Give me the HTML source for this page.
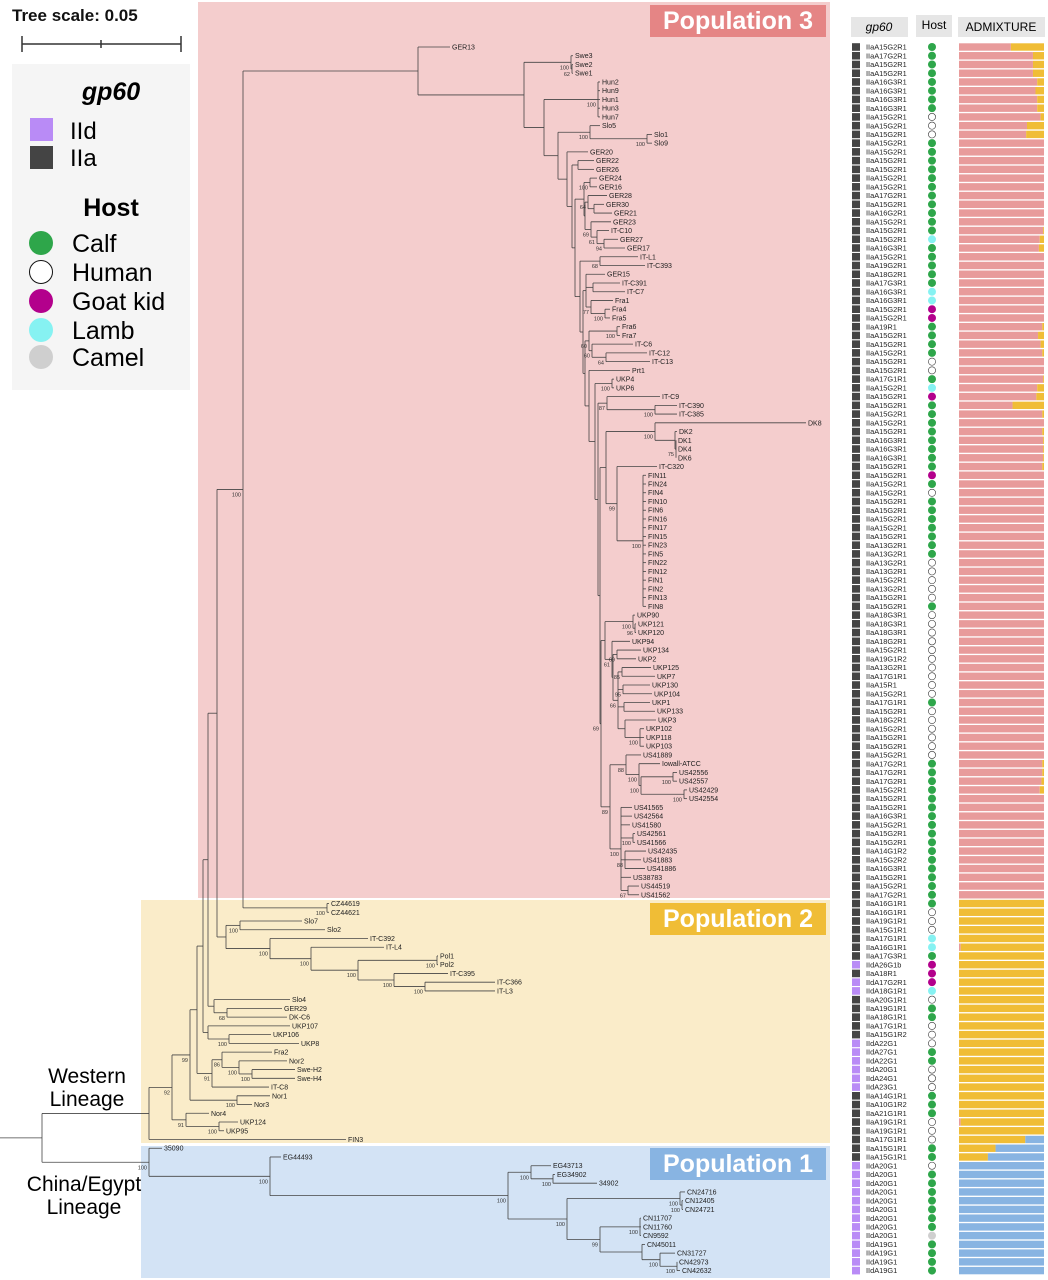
<!DOCTYPE html>
<html><head><meta charset="utf-8"><style>
html,body{margin:0;padding:0;background:#fff;}
svg{display:block;font-family:"Liberation Sans",sans-serif;}
</style></head><body>
<svg id="fig" width="1048" height="1280" viewBox="0 0 1048 1280" xmlns="http://www.w3.org/2000/svg">
<rect x="198" y="2" width="632" height="896" fill="#f4cdcd"/>
<rect x="141" y="900" width="689" height="243" fill="#faecc9"/>
<rect x="141" y="1146" width="689" height="132" fill="#d3e3f5"/>
<g><rect x="650" y="5" width="176" height="32" fill="#e58585"/><text x="738" y="29" text-anchor="middle" fill="#fff" font-size="25" font-weight="bold">Population 3</text></g>
<g><rect x="650" y="903" width="176" height="32" fill="#f0bd36"/><text x="738" y="927" text-anchor="middle" fill="#fff" font-size="25" font-weight="bold">Population 2</text></g>
<g><rect x="650" y="1148" width="176" height="32" fill="#88b4e2"/><text x="738" y="1172" text-anchor="middle" fill="#fff" font-size="25" font-weight="bold">Population 1</text></g>

<g>
<text x="12" y="21" font-size="17" font-weight="bold" fill="#111">Tree scale: 0.05</text>
<path d="M22 44H181M22 36V52M181 36V52M101 40V48" stroke="#333" stroke-width="1.5" fill="none"/>
</g>
<g>
<rect x="12" y="64" width="178" height="326" fill="#f5f5f5"/>
<text x="111" y="100" text-anchor="middle" font-size="25" font-weight="bold" font-style="italic">gp60</text>
<rect x="30" y="118" width="23" height="23" fill="#b98bf6"/>
<text x="70" y="139" font-size="24">IId</text>
<rect x="30" y="146" width="23" height="23" fill="#444"/>
<text x="70" y="166" font-size="24">IIa</text>
<text x="111" y="216" text-anchor="middle" font-size="25" font-weight="bold">Host</text>
<circle cx="41" cy="243" r="12" fill="#2ea64a"/><text x="72" y="252" font-size="25">Calf</text>
<circle cx="41" cy="272" r="11.5" fill="#fff" stroke="#111" stroke-width="1"/><text x="72" y="281" font-size="25">Human</text>
<circle cx="41" cy="301" r="12" fill="#b3008c"/><text x="72" y="310" font-size="25">Goat kid</text>
<circle cx="41" cy="330" r="12" fill="#86f2f2"/><text x="72" y="339" font-size="25">Lamb</text>
<circle cx="41" cy="357" r="12" fill="#cfcfcf"/><text x="72" y="366" font-size="25">Camel</text>
</g>
<g><text x="87" y="1083" text-anchor="middle" font-size="21">Western</text><text x="87" y="1106" text-anchor="middle" font-size="21">Lineage</text></g>
<g><text x="84" y="1191" text-anchor="middle" font-size="21">China/Egypt</text><text x="84" y="1214" text-anchor="middle" font-size="21">Lineage</text></g>

<g><rect x="851" y="17" width="57" height="20" fill="#e6e6e6"/><text x="879" y="31" text-anchor="middle" font-size="12" font-style="italic">gp60</text></g>
<g><rect x="916" y="15" width="36" height="22" fill="#e6e6e6"/><text x="934" y="29" text-anchor="middle" font-size="12">Host</text></g>
<g><rect x="958" y="17" width="87" height="20" fill="#e6e6e6"/><text x="1001" y="31" text-anchor="middle" font-size="12">ADMIXTURE</text></g>
<g id="tree"></g>
<g id="panel"></g>
</svg>
<script>
var gp60Labels=[
"IIaA15G2R1","IIaA17G2R1","IIaA15G2R1","IIaA15G2R1","IIaA16G3R1","IIaA16G3R1","IIaA16G3R1","IIaA16G3R1","IIaA15G2R1","IIaA15G2R1",
"IIaA15G2R1","IIaA15G2R1","IIaA15G2R1","IIaA15G2R1","IIaA15G2R1","IIaA15G2R1","IIaA15G2R1","IIaA17G2R1","IIaA15G2R1","IIaA16G2R1",
"IIaA15G2R1","IIaA15G2R1","IIaA15G2R1","IIaA16G3R1","IIaA15G2R1","IIaA19G2R1","IIaA18G2R1","IIaA17G3R1","IIaA16G3R1","IIaA16G3R1",
"IIaA15G2R1","IIaA15G2R1","IIaA19R1","IIaA15G2R1","IIaA15G2R1","IIaA15G2R1","IIaA15G2R1","IIaA15G2R1","IIaA17G1R1","IIaA15G2R1",
"IIaA15G2R1","IIaA15G2R1","IIaA15G2R1","IIaA15G2R1",
"IIaA15G2R1","IIaA16G3R1","IIaA16G3R1","IIaA16G3R1","IIaA15G2R1","IIaA15G2R1","IIaA15G2R1","IIaA15G2R1","IIaA15G2R1","IIaA15G2R1",
"IIaA15G2R1","IIaA15G2R1","IIaA15G2R1","IIaA13G2R1","IIaA13G2R1","IIaA13G2R1","IIaA13G2R1","IIaA15G2R1","IIaA13G2R1","IIaA15G2R1",
"IIaA15G2R1","IIaA18G3R1","IIaA18G3R1","IIaA18G3R1","IIaA18G2R1","IIaA15G2R1","IIaA19G1R2","IIaA13G2R1","IIaA17G1R1","IIaA15R1",
"IIaA15G2R1","IIaA17G1R1","IIaA15G2R1","IIaA18G2R1","IIaA15G2R1","IIaA15G2R1","IIaA15G2R1","IIaA15G2R1","IIaA17G2R1","IIaA17G2R1",
"IIaA17G2R1","IIaA15G2R1","IIaA15G2R1","IIaA15G2R1","IIaA16G3R1","IIaA15G2R1","IIaA15G2R1","IIaA15G2R1","IIaA14G1R2","IIaA15G2R2",
"IIaA16G3R1","IIaA15G2R1","IIaA15G2R1","IIaA17G2R1",
"IIaA16G1R1","IIaA16G1R1","IIaA19G1R1","IIaA15G1R1","IIaA17G1R1","IIaA16G1R1","IIaA17G3R1","IIdA26G1b","IIaA18R1","IIdA17G2R1",
"IIdA18G1R1","IIaA20G1R1","IIaA19G1R1","IIaA18G1R1","IIaA17G1R1","IIaA15G1R2","IIdA22G1","IIdA27G1","IIdA22G1","IIdA20G1",
"IIdA24G1","IIdA23G1","IIaA14G1R1","IIaA10G1R2","IIaA21G1R1","IIaA19G1R1","IIaA19G1R1","IIaA17G1R1","IIaA15G1R1","IIaA15G1R1",
"IIdA20G1","IIdA20G1","IIdA20G1","IIdA20G1","IIdA20G1","IIdA20G1","IIdA20G1","IIdA20G1","IIdA20G1","IIdA19G1","IIdA19G1","IIdA19G1","IIdA19G1"];
var hostCodes="gggggggghhhggggggggggglgggggllkkgggghhglkggg"+"gggggkghggggggghhhhhghhhhhhhhhhghhhhhhgggggggggggggggg"+"ghhhllgkkklhgghhhgghhhggghhhgg"+"hgggggggcgggg";
var admixPink=[.61,.87,.87,.87,.92,.90,.92,.92,.96,.80,.79,1,1,1,1,1,1,1,1,1,1,.99,.95,.94,1,1,1,1,1,1,1,1,.98,.93,.96,.98,1,1,.99,.92,.91,.63,.98,1,
.98,.99,.99,.99,.98,1,1,1,1,1,1,1,1,1,1,1,1,1,1,1,1,1,1,1,1,1,1,1,1,1,1,1,1,1,1,1,1,1,.98,.98,.97,.95,1,1,1,1,1,1,1,1,1,1,1,1,
0,0,0,0,0,.02,0,0,0,0,0,0,0,0,0,0,0,0,0,0,0,0,0,0,0,.02,0,0,0,0,
0,0,0,0,0,0,0,0,0,0,0,0,0];
var admixBlue=[0,0,0,0,0,0,0,0,0,0,0,0,0,0,0,0,0,0,0,0,0,0,0,0,0,0,0,0,0,0,0,0,0,0,0,0,0,0,0,0,0,0,0,0,
0,0,0,0,0,0,0,0,0,0,0,0,0,0,0,0,0,0,0,0,0,0,0,0,0,0,0,0,0,0,0,0,0,0,0,0,0,0,0,0,0,0,0,0,0,0,0,0,0,0,0,0,0,0,
0,0,0,0,0,0,0,0,0,0,0,0,0,0,0,0,0,0,0,0,0,0,0,0,0,0,0,.22,.57,.66,
1,1,1,1,1,1,1,1,1,1,1,1,1];

var NS="http://www.w3.org/2000/svg";
var ROW0=47, ROWH=8.74;
function rowY(i){return ROW0+i*ROWH;}
function mk(tag,attrs,parent){var e=document.createElementNS(NS,tag);for(var k in attrs)e.setAttribute(k,attrs[k]);parent.appendChild(e);return e;}
var hostFill={g:"#2ea64a",h:"#fff",k:"#b3008c",l:"#86f2f2",c:"#cfcfcf"};
var hostName={g:"calf",h:"human",k:"goat-kid",l:"lamb",c:"camel"};
var panel=document.getElementById("panel");
for(var i=0;i<gp60Labels.length;i++){
  var y=rowY(i), lab=gp60Labels[i], isD=lab.indexOf("IId")===0;
  var sq=mk("rect",{x:852,y:y-3.8,width:8,height:7.6,fill:isD?"#b98bf6":"#444"},panel);
  
  
  var t=mk("text",{x:866,y:y+2.6,"font-size":"7.4",fill:"#222"},panel);t.textContent=lab;
  
  
  var h=hostCodes.charAt(i);
  var c=mk("circle",{cx:932,cy:y,r:h==="h"?3.6:4,fill:hostFill[h]},panel);
  if(h==="h"){c.setAttribute("stroke","#333");c.setAttribute("stroke-width","0.6");}
  
  
  var W=85,x0=959,p=admixPink[i],b=admixBlue[i],yl=Math.max(0,1-p-b);
  var segs=[[p,"#e89b9b"],[yl,"#f0bd36"],[b,"#88b4e2"]],xx=x0;
  for(var s=0;s<3;s++){ if(segs[s][0]<=0)continue;
    var r=mk("rect",{x:xx,y:y-3.7,width:segs[s][0]*W,height:7.4,fill:segs[s][1]},panel);
    
    
    xx+=segs[s][0]*W;}
}

// tree
function N(x,s){return {x:x,s:s,c:Array.prototype.slice.call(arguments,2)};}
function L(n,x){return {x:x,n:n};}
var UKP=N(605,'',N(633,'100',L('UKP90',635),N(635,'96',L('UKP121',636),L('UKP120',636))),N(612,'61',L('UKP94',630),N(613,'',N(617,'69',L('UKP134',641),L('UKP2',636)),N(618,'66',N(622,'85',L('UKP125',651),L('UKP7',655)),N(623,'95',L('UKP130',650),L('UKP104',652)),N(624,'',L('UKP1',650),L('UKP133',655)),N(625,'',L('UKP3',656),N(640,'100',L('UKP102',644),L('UKP118',644),L('UKP103',644)))))));
var US=N(610,'89',N(626,'88',L('US41889',641),N(639,'100',L('Iowall-ATCC',660),N(641,'100',N(673,'100',L('US42556',677),L('US42557',677)),N(684,'100',L('US42429',687),L('US42554',687))))),N(621,'100',L('US41565',632),L('US42564',632),L('US41580',630),N(633,'100',L('US42561',635),L('US41566',635)),N(625,'88',L('US42435',646),L('US41883',641),L('US41886',645)),L('US38783',631),N(628,'67',L('US44519',639),L('US41562',639))));
var FIN=N(643,'100',L('FIN11',646),L('FIN24',646),L('FIN4',646),L('FIN10',646),L('FIN6',646),L('FIN16',646),L('FIN17',646),L('FIN15',646),L('FIN23',646),L('FIN5',646),L('FIN22',646),L('FIN12',646),L('FIN1',646),L('FIN2',646),L('FIN13',646),L('FIN8',646));
var DK=N(655,'100',L('DK8',806),N(675,'',L('DK2',677),N(676,'75',L('DK1',676),L('DK4',676),L('DK6',676))));
var deep=N(589,'',L('Prt1',630),N(595,'',N(612,'100',L('UKP4',614),L('UKP6',614)),N(598,'',N(607,'87',L('IT-C9',660),N(655,'100',L('IT-C390',677),L('IT-C385',677))),N(600,'',N(606,'',DK,N(617,'99',L('IT-C320',657),FIN)),N(601,'69',UKP,US)))));
var GERg=N(575,'',N(584,'',N(590,'100',L('GER24',597),L('GER16',597)),N(585,'',N(588,'64',L('GER28',607),N(594,'',L('GER30',604),L('GER21',612))),N(591,'69',L('GER23',611),N(597,'61',L('IT-C10',609),N(604,'94',L('GER27',618),L('GER17',625)))))),
  N(580,'',N(600,'68',L('IT-L1',638),L('IT-C393',645)),N(583,'',N(586,'',L('GER15',605),N(593,'',L('IT-C391',620),L('IT-C7',625)),N(591,'77',L('Fra1',613),N(605,'100',L('Fra4',610),L('Fra5',610)))),N(585,'',N(589,'60',N(617,'100',L('Fra6',620),L('Fra7',620)),N(592,'60',L('IT-C6',633),N(606,'64',L('IT-C12',647),L('IT-C13',650)))),deep))));
var POP3=N(418,'',L('GER13',450),N(524,'',N(571,'100',L('Swe3',573),N(572,'62',L('Swe2',573),L('Swe1',573))),N(544,'',N(598,'100',L('Hun2',600),L('Hun9',600),L('Hun1',600),L('Hun3',600),L('Hun7',600)),N(558,'',N(590,'100',L('Slo5',600),N(647,'100',L('Slo1',652),L('Slo9',652))),N(567,'',L('GER20',588),N(572,'',N(578,'',L('GER22',594),L('GER26',594)),GERg))))));
var P=N(243,'100',POP3,N(327,'100',L('CZ44619',329),L('CZ44621',329)));
var N226=N(226,'',N(240,'100',L('Slo7',302),L('Slo2',325)),N(270,'100',L('IT-C392',368),N(311,'100',L('IT-L4',384),N(358,'100',N(437,'100',L('Pol1',438),L('Pol2',438)),N(394,'100',L('IT-C395',448),N(425,'100',L('IT-C366',495),L('IT-L3',495)))))));
var N217=N(217,'',P,N226);
var N208=N(208,'',N217,N(214,'',L('Slo4',290),N(227,'68',L('GER29',282),L('DK-C6',287))));
var N203=N(203,'',N208,N(208,'',L('UKP107',290),N(229,'100',L('UKP106',271),L('UKP8',299))));
var N197=N(197,'',N203,N(212,'91',N(222,'86',L('Fra2',272),N(239,'100',L('Nor2',287),N(252,'100',L('Swe-H2',295),L('Swe-H4',295)))),L('IT-C8',269)));
var N190=N(190,'99',N197,N(237,'100',L('Nor1',270),L('Nor3',252)));
var N186=N(186,'91',L('Nor4',209),N(219,'100',L('UKP124',238),L('UKP95',224)));
var WEST=N(149,'',N(172,'92',N190,N186),L('FIN3',346));
var CHINA=N(149,'100',L('35090',162),N(270,'100',L('EG44493',281),N(508,'100',N(531,'100',L('EG43713',551),N(553,'100',L('EG34902',555),L('34902',597))),N(567,'100',N(680,'100',L('CN24716',685),N(682,'100',L('CN12405',683),L('CN24721',683))),N(600,'99',N(640,'100',L('CN11707',641),L('CN11760',641),L('CN9592',641)),N(642,'',L('CN45011',645),N(660,'100',L('CN31727',675),N(677,'100',L('CN42973',677),L('CN42632',680)))))))));
var ROOT=N(42,'',WEST,CHINA);

var tree=document.getElementById("tree");
var leafIdx=0;
function layout(n){
  if(!n.c){n.y=rowY(leafIdx++);return n.y;}
  for(var i=0;i<n.c.length;i++)layout(n.c[i]);
  n.y=(n.c[0].y+n.c[n.c.length-1].y)/2;return n.y;
}
layout(ROOT);
function line(x1,y1,x2,y2,name){
  var l=mk("line",{x1:x1,y1:y1,x2:x2,y2:y2,stroke:"#444","stroke-width":"0.8"},tree);
  
  
}
function draw(n){
  if(!n.c){
    var t=mk("text",{x:n.x+2,y:n.y+2.5,"font-size":"7","fill":"#222"},tree);t.textContent=n.n;
    
    
    return;}
  line(n.x,n.c[0].y,n.x,n.c[n.c.length-1].y,'tree-node-line');
  for(var i=0;i<n.c.length;i++){line(n.x,n.c[i].y,n.c[i].x,n.c[i].y,'tree-branch');draw(n.c[i]);}
  if(n.s){var s=mk("text",{x:n.x-2,y:n.y+7,"font-size":"5.5","text-anchor":"end",fill:"#333"},tree);s.textContent=n.s;
    
    }
}
line(0,ROOT.y,ROOT.x,ROOT.y,'tree-root-branch');
draw(ROOT);
</script>
</body></html>
